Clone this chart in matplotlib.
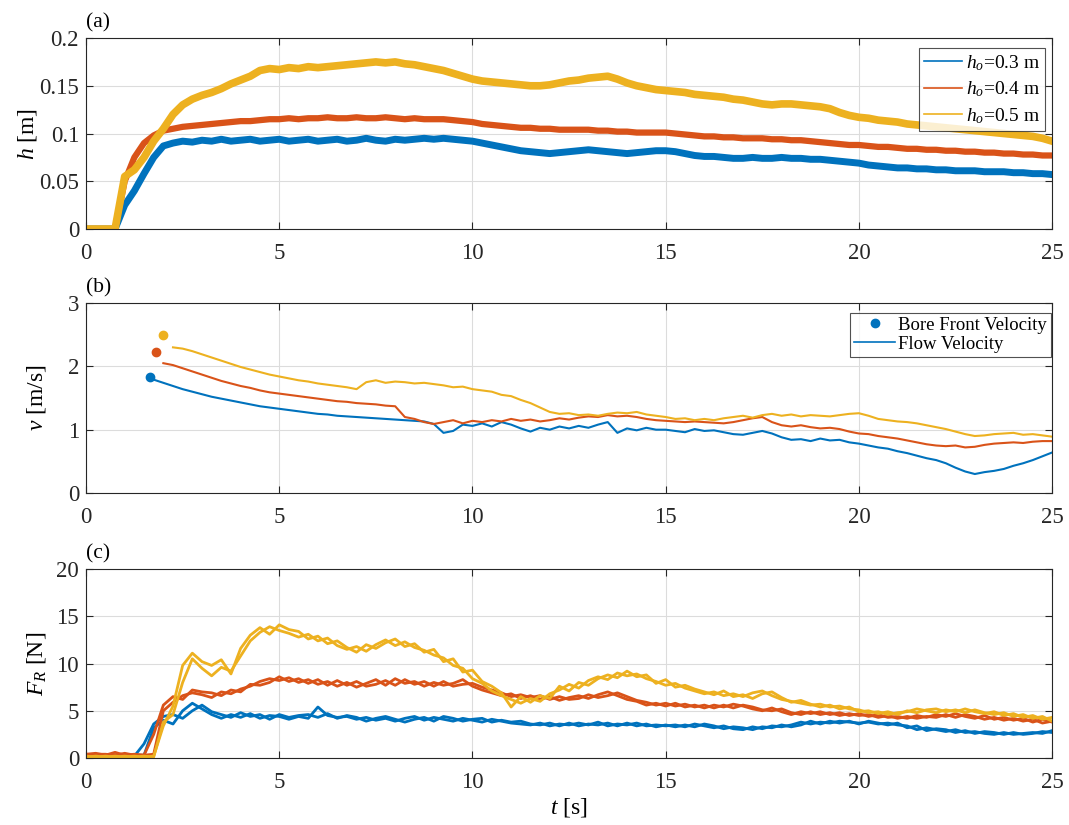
import numpy as np
import matplotlib
matplotlib.use("Agg")
import matplotlib.pyplot as plt
from matplotlib.lines import Line2D

plt.rcParams['font.family'] = ['Liberation Serif', 'DejaVu Serif']
plt.rcParams['mathtext.fontset'] = 'custom'
plt.rcParams['mathtext.rm'] = 'Liberation Serif'
plt.rcParams['mathtext.it'] = 'Liberation Serif:italic'

# ---------------- data ----------------
t = np.arange(0, 25.001, 0.25)
nan = np.nan

h_03 = [0, 0, 0, 0, 0.025, 0.04, 0.058, 0.075, 0.087, 0.09, 0.092, 0.091, 0.093, 0.092, 0.094, 0.092,
        0.093, 0.094, 0.092, 0.093, 0.094, 0.092, 0.093, 0.094, 0.092, 0.093, 0.094, 0.092, 0.093, 0.095,
        0.093, 0.092, 0.094, 0.093, 0.094, 0.095, 0.094, 0.095, 0.094, 0.093, 0.092, 0.09, 0.088, 0.086,
        0.084, 0.082, 0.081, 0.08, 0.079, 0.08, 0.081, 0.082, 0.083, 0.082, 0.081, 0.08, 0.079, 0.08,
        0.081, 0.082, 0.082, 0.081, 0.079, 0.077, 0.076, 0.076, 0.075, 0.074, 0.074, 0.075, 0.074, 0.074,
        0.075, 0.074, 0.074, 0.073, 0.073, 0.072, 0.071, 0.07, 0.069, 0.067, 0.066, 0.065, 0.064, 0.064,
        0.063, 0.063, 0.062, 0.062, 0.061, 0.061, 0.061, 0.06, 0.06, 0.06, 0.059, 0.059, 0.058, 0.058, 0.057]
h_04 = [0, 0, 0, 0, 0.05, 0.075, 0.09, 0.098, 0.103, 0.105, 0.107, 0.108, 0.109, 0.11, 0.111, 0.112,
        0.113, 0.113, 0.114, 0.115, 0.115, 0.116, 0.115, 0.116, 0.116, 0.117, 0.116, 0.116, 0.117, 0.116,
        0.116, 0.117, 0.116, 0.115, 0.116, 0.115, 0.115, 0.115, 0.114, 0.113, 0.112, 0.11, 0.109, 0.108,
        0.107, 0.106, 0.106, 0.105, 0.105, 0.104, 0.104, 0.104, 0.104, 0.103, 0.103, 0.102, 0.102, 0.101,
        0.101, 0.101, 0.101, 0.1, 0.099, 0.098, 0.097, 0.097, 0.096, 0.096, 0.095, 0.095, 0.095, 0.094,
        0.094, 0.093, 0.093, 0.092, 0.091, 0.09, 0.089, 0.088, 0.088, 0.087, 0.086, 0.086, 0.085, 0.084,
        0.084, 0.083, 0.083, 0.082, 0.082, 0.081, 0.081, 0.08, 0.08, 0.079, 0.079, 0.078, 0.078, 0.077, 0.077]
h_05 = [0, 0, 0, 0, 0.055, 0.062, 0.075, 0.092, 0.105, 0.12, 0.13, 0.136, 0.14, 0.143, 0.147, 0.152,
        0.156, 0.16, 0.166, 0.168, 0.167, 0.169, 0.168, 0.17, 0.169, 0.17, 0.171, 0.172, 0.173, 0.174,
        0.175, 0.174, 0.175, 0.173, 0.172, 0.17, 0.168, 0.166, 0.163, 0.16, 0.157, 0.155, 0.154, 0.153,
        0.152, 0.151, 0.15, 0.15, 0.151, 0.153, 0.155, 0.156, 0.158, 0.159, 0.16, 0.157, 0.153, 0.15,
        0.148, 0.146, 0.145, 0.144, 0.143, 0.141, 0.14, 0.139, 0.138, 0.136, 0.135, 0.133, 0.131, 0.13,
        0.131, 0.131, 0.13, 0.129, 0.128, 0.126, 0.122, 0.119, 0.117, 0.116, 0.114, 0.113, 0.112, 0.11,
        0.109, 0.108, 0.107, 0.106, 0.105, 0.104, 0.103, 0.102, 0.101, 0.1, 0.099, 0.098, 0.097, 0.095, 0.092]

bore_t = [1.65, 1.82, 2.0]
bore_v = [1.83, 2.22, 2.5]

v_03 = [nan, nan, nan, nan, nan, nan, nan, 1.79, 1.74, 1.69, 1.64, 1.6, 1.56, 1.52, 1.49, 1.46,
        1.43, 1.4, 1.37, 1.35, 1.33, 1.31, 1.29, 1.27, 1.25, 1.24, 1.22, 1.21, 1.2, 1.19, 1.18, 1.17,
        1.16, 1.15, 1.14, 1.13, 1.09, 0.95, 0.98, 1.08, 1.06, 1.1, 1.05, 1.12, 1.08, 1.02, 0.97, 1.03,
        1.0, 1.05, 1.02, 1.06, 1.03, 1.08, 1.12, 0.95, 1.02, 0.99, 1.03, 1.0, 1.0, 0.98, 0.96, 1.01,
        0.98, 0.99, 0.96, 0.93, 0.92, 0.95, 0.98, 0.94, 0.88, 0.84, 0.85, 0.82, 0.86, 0.83, 0.84, 0.8,
        0.78, 0.75, 0.72, 0.7, 0.66, 0.63, 0.59, 0.55, 0.52, 0.47, 0.4, 0.34, 0.3, 0.33, 0.35, 0.38,
        0.43, 0.47, 0.52, 0.58, 0.64]
v_04 = [nan, nan, nan, nan, nan, nan, nan, nan, 2.05, 2.02, 1.97, 1.92, 1.87, 1.82, 1.77, 1.73,
        1.69, 1.66, 1.62, 1.59, 1.57, 1.55, 1.53, 1.51, 1.49, 1.47, 1.45, 1.44, 1.42, 1.41, 1.4, 1.38,
        1.37, 1.2, 1.17, 1.12, 1.09, 1.12, 1.15, 1.1, 1.14, 1.12, 1.15, 1.13, 1.17, 1.14, 1.16, 1.13,
        1.15, 1.18, 1.16, 1.19, 1.21, 1.2, 1.23, 1.21, 1.22, 1.2, 1.17, 1.15, 1.14, 1.13, 1.12, 1.13,
        1.12, 1.11, 1.1, 1.12, 1.15, 1.18, 1.2, 1.12, 1.07, 1.05, 1.07, 1.04, 1.02, 1.03, 1.01, 0.97,
        0.94, 0.93, 0.9, 0.88, 0.86, 0.83, 0.8, 0.77, 0.75, 0.74, 0.75, 0.72, 0.73, 0.76, 0.78, 0.79,
        0.8, 0.79, 0.81, 0.82, 0.82]
v_05 = [nan, nan, nan, nan, nan, nan, nan, nan, nan, 2.3, 2.28, 2.24, 2.19, 2.14, 2.09, 2.04,
        1.99, 1.95, 1.91, 1.87, 1.84, 1.81, 1.78, 1.76, 1.73, 1.71, 1.69, 1.67, 1.64, 1.75, 1.78, 1.74,
        1.76, 1.75, 1.73, 1.74, 1.72, 1.7, 1.67, 1.68, 1.64, 1.62, 1.6, 1.55, 1.53, 1.47, 1.42, 1.35,
        1.28, 1.25, 1.26, 1.23, 1.24, 1.22, 1.25, 1.27, 1.26, 1.28, 1.24, 1.22, 1.2, 1.17, 1.18, 1.15,
        1.17, 1.15, 1.18, 1.2, 1.22, 1.19, 1.23, 1.25, 1.22, 1.24, 1.21, 1.23, 1.22, 1.21, 1.23, 1.25,
        1.26, 1.22, 1.17, 1.15, 1.13, 1.12, 1.1, 1.07, 1.04, 1.01, 0.97, 0.93, 0.9, 0.91, 0.93, 0.94,
        0.95, 0.92, 0.93, 0.91, 0.89]

F_03_run1 = [0.2, 0.3, 0.2, 0.3, 0.2, 0.3, 0.3, 3.2, 4.0, 3.6, 5.0, 5.8, 5.2, 4.6, 4.2, 4.6,
             4.3, 4.7, 4.2, 4.5, 4.4, 4.1, 4.4, 4.2, 5.4, 4.5, 4.3, 4.4, 4.1, 4.3, 4.0, 4.2,
             3.9, 4.2, 4.4, 4.0, 4.3, 4.1, 3.9, 4.2, 4.0, 3.8, 4.1, 3.9, 3.7, 3.6, 3.5, 3.7,
             3.4, 3.6, 3.5, 3.7, 3.5, 3.8, 3.4, 3.6, 3.5, 3.7, 3.4, 3.5, 3.4, 3.5, 3.3, 3.6,
             3.4, 3.2, 3.4, 3.1, 3.0, 3.3, 3.1, 3.4, 3.3, 3.5, 3.8, 3.6, 3.8, 3.7, 3.9, 3.8,
             3.7, 3.8, 3.6, 3.7, 3.5, 3.4, 3.0, 3.2, 3.0, 2.8, 3.0, 2.7, 2.8, 2.6, 2.5, 2.7,
             2.5, 2.6, 2.7, 2.6, 2.9]
F_03_run2 = [0.1, 0.2, 0.1, 0.2, 0.1, 0.2, 1.5, 3.6, 4.4, 4.6, 4.2, 5.0, 5.6, 4.9, 4.6, 4.3,
             4.8, 4.4, 4.6, 4.1, 4.6, 4.3, 4.5, 4.6, 4.3, 4.7, 4.2, 4.5, 4.3, 3.9, 4.2, 4.4,
             4.1, 3.8, 4.1, 4.3, 3.9, 4.4, 4.2, 3.9, 4.1, 4.2, 3.8, 4.0, 3.8, 3.9, 3.6, 3.5,
             3.7, 3.4, 3.7, 3.4, 3.6, 3.5, 3.7, 3.4, 3.7, 3.4, 3.6, 3.3, 3.5, 3.3, 3.5, 3.3,
             3.6, 3.4, 3.1, 3.3, 3.2, 3.0, 3.3, 3.2, 3.5, 3.3, 3.5, 3.9, 3.6, 3.9, 3.7, 3.9,
             3.6, 3.9, 3.7, 3.5, 3.7, 3.2, 3.4, 2.9, 3.1, 3.0, 2.7, 2.9, 2.6, 2.8, 2.7, 2.5,
             2.7, 2.5, 2.6, 2.8, 2.7]
F_04_run1 = [0.4, 0.5, 0.3, 0.6, 0.3, 0.4, 0.3, 0.4, 5.0, 5.9, 6.6, 6.9, 6.7, 6.4, 7.0, 6.8,
             7.3, 7.6, 8.1, 8.4, 8.2, 8.5, 8.0, 8.3, 7.8, 8.1, 7.6, 8.0, 7.5, 7.9, 8.3, 7.7,
             8.4, 7.9, 8.1, 7.6, 8.0, 7.7, 7.9, 8.3, 7.6, 7.2, 6.9, 6.6, 6.8, 6.3, 6.6, 6.2,
             6.5, 6.1, 6.4, 6.6, 6.3, 6.7, 7.0, 6.6, 6.2, 6.0, 5.6, 5.8, 5.5, 5.8, 5.4, 5.6,
             5.3, 5.6, 5.4, 5.7, 5.5, 5.2, 5.0, 5.3, 4.9, 4.6, 4.9, 4.7, 4.9, 4.6, 4.8, 4.5,
             4.7, 4.4, 4.6, 4.3, 4.4, 4.2, 4.5, 4.3, 4.6, 4.4, 4.7, 4.4, 4.2, 4.5, 4.1, 4.3,
             4.0, 4.2, 3.8, 4.1, 3.8]
F_04_run2 = [0.3, 0.4, 0.4, 0.3, 0.5, 0.3, 0.3, 2.5, 5.6, 6.5, 6.2, 7.2, 7.0, 6.9, 6.6, 7.2,
             7.0, 7.8, 7.7, 8.0, 8.6, 8.1, 8.4, 7.9, 8.3, 7.7, 8.2, 7.7, 8.1, 7.6, 7.8, 8.2,
             7.7, 8.3, 7.8, 8.1, 7.6, 8.1, 7.6, 7.8, 7.9, 7.5, 7.2, 6.9, 6.5, 6.7, 6.4, 6.6,
             6.2, 6.5, 6.2, 6.3, 6.7, 6.4, 6.6, 6.9, 6.5, 6.1, 5.9, 5.6, 5.8, 5.5, 5.7, 5.4,
             5.6, 5.3, 5.6, 5.3, 5.6, 5.4, 5.1, 5.0, 5.2, 4.8, 4.6, 4.9, 4.6, 4.8, 4.5, 4.7,
             4.5, 4.6, 4.3, 4.5, 4.2, 4.4, 4.2, 4.4, 4.3, 4.6, 4.3, 4.6, 4.4, 4.1, 4.3, 4.0,
             4.2, 3.9, 4.1, 3.7, 3.9]
F_05_run1 = [0.2, 0.1, 0.2, 0.1, 0.2, 0.1, 0.2, 0.1, 3.8, 4.6, 8.0, 10.5, 9.5, 8.7, 9.6, 9.2,
             10.8, 12.4, 13.3, 13.9, 13.5, 13.2, 12.8, 13.1, 12.4, 12.7, 11.9, 11.5, 11.8, 11.3, 12.0, 12.5,
             11.9, 12.3, 11.7, 11.4, 10.9, 10.6, 9.8, 9.5, 8.4, 7.9, 7.1, 6.6, 6.2, 5.8, 6.3, 6.0,
             6.8, 7.2, 7.8, 7.4, 8.2, 8.6, 8.3, 9.0, 8.7, 8.9, 8.4, 8.1, 7.7, 7.9, 7.4, 7.1,
             6.8, 7.0, 6.6, 6.8, 6.5, 6.9, 7.1, 6.6, 6.2, 6.0, 5.8, 5.6, 5.7, 5.4, 5.5, 5.2,
             5.1, 4.8, 4.9, 4.6, 4.8, 4.9, 5.2, 5.0, 4.8, 5.1, 4.9, 5.2, 4.9, 4.7, 4.9, 4.5,
             4.7, 4.3, 4.5, 4.1, 4.3]
F_05_run2 = [0.1, 0.2, 0.1, 0.2, 0.1, 0.2, 0.1, 0.2, 3.4, 5.5, 9.8, 11.1, 10.2, 9.8, 10.4, 8.9,
             11.6, 13.0, 13.8, 13.1, 14.1, 13.6, 13.4, 12.6, 12.9, 12.1, 12.4, 11.7, 11.2, 12.0, 11.6, 12.2,
             12.6, 11.8, 12.1, 11.2, 11.5, 10.2, 10.5, 9.1, 9.3, 8.1, 7.6, 6.9, 5.4, 6.5, 5.9, 6.6,
             6.3, 7.6, 7.1, 8.0, 7.7, 8.4, 8.8, 8.5, 9.2, 8.6, 8.8, 7.9, 8.3, 7.5, 7.7, 7.3,
             7.0, 6.7, 7.1, 6.5, 6.7, 6.3, 6.8, 7.0, 6.4, 5.9, 6.1, 5.7, 5.4, 5.6, 5.2, 5.4,
             4.9, 5.0, 4.7, 4.9, 4.6, 5.0, 4.8, 5.1, 5.2, 4.9, 5.1, 4.8, 5.1, 4.8, 4.6, 4.8,
             4.4, 4.6, 4.2, 4.4, 3.9]

labels_h0 = ['$h_o$=0.3 m', '$h_o$=0.4 m', '$h_o$=0.5 m']
colors = ['#0072BD', '#D95319', '#EDB120']
xticks = [0, 5, 10, 15, 20, 25]

# ---------------- figure ----------------
fig = plt.figure(figsize=(10.69, 8.25), dpi=100)
L, W = 0.0805, 0.9037
ax_a = fig.add_axes([L, 0.7224, W, 0.2315])
ax_b = fig.add_axes([L, 0.4024, W, 0.2303])
ax_c = fig.add_axes([L, 0.0812, W, 0.2290])

def style(ax, yticks, ylim, yticklabels=None):
    ax.set_xlim(0, 25)
    ax.set_ylim(*ylim)
    ax.set_xticks(xticks)
    ax.set_yticks(yticks)
    if yticklabels is not None:
        ax.set_yticklabels(yticklabels)
    ax.grid(True, color='#dcdcdc', linewidth=0.8)
    ax.set_axisbelow(True)
    ax.tick_params(direction='in', top=True, right=True, length=5, width=0.8,
                   labelsize=16.5, colors='#262626')
    ax.tick_params(axis='x', pad=10)
    ax.tick_params(axis='y', pad=5)
    for s in ax.spines.values():
        s.set_color('#262626')
        s.set_linewidth(0.8)

# (a)
for y, c, lw in zip([h_03, h_04, h_05], colors, [5.0, 4.5, 5.5]):
    ax_a.plot(t, y, color=c, lw=lw, solid_joinstyle='round')
style(ax_a, [0, 0.05, 0.1, 0.15, 0.2], (0, 0.2), ['0', '0.05', '0.1', '0.15', '0.2'])
ax_a.set_ylabel('$h$ [m]', fontsize=17, labelpad=0)
handles = [Line2D([], [], color=c, lw=1.2) for c in colors]
leg = ax_a.legend(handles, labels_h0, loc='upper right', bbox_to_anchor=(0.993, 0.947),
                  fontsize=14, frameon=True, fancybox=False, edgecolor='#262626',
                  handlelength=2.0, handletextpad=0.2, borderpad=0.25, labelspacing=0.35,
                  borderaxespad=0)
leg.get_frame().set_linewidth(0.8)
ax_a.text(0.0, 1.03, '(a)', transform=ax_a.transAxes, fontsize=15.5, ha='left', va='bottom')

# (b)
for y, c in zip([v_03, v_04, v_05], colors):
    ax_b.plot(t, y, color=c, lw=1.5)
for bt, bv, c in zip(bore_t, bore_v, colors):
    ax_b.plot([bt], [bv], 'o', color=c, ms=6)
style(ax_b, [0, 1, 2, 3], (0, 3))
ax_b.set_ylabel('$v$ [m/s]', fontsize=17, labelpad=14)
hb = [Line2D([], [], color=colors[0], marker='o', ls='none', ms=6),
      Line2D([], [], color=colors[0], lw=1.2)]
leg_b = ax_b.legend(hb, ['Bore Front Velocity', 'Flow Velocity'], loc='upper right',
                    bbox_to_anchor=(0.9985, 0.947), fontsize=13.5, frameon=True, fancybox=False,
                    edgecolor='#262626', handlelength=2.2, handletextpad=0.15, borderpad=0.2,
                    labelspacing=0.1, borderaxespad=0)
leg_b.get_frame().set_linewidth(0.8)
ax_b.text(0.0, 1.03, '(b)', transform=ax_b.transAxes, fontsize=15.5, ha='left', va='bottom')

# (c)
for runs, c in zip([(F_03_run1, F_03_run2), (F_04_run1, F_04_run2), (F_05_run1, F_05_run2)], colors):
    for r in runs:
        ax_c.plot(t, r, color=c, lw=2.0)
style(ax_c, [0, 5, 10, 15, 20], (0, 20))
ax_c.set_ylabel('$F_R$ [N]', fontsize=17, labelpad=6)
ax_c.set_xlabel('$t$ [s]', fontsize=17, labelpad=2)
ax_c.text(0.0, 1.03, '(c)', transform=ax_c.transAxes, fontsize=15.5, ha='left', va='bottom')

fig.savefig('out.png', dpi=100)
